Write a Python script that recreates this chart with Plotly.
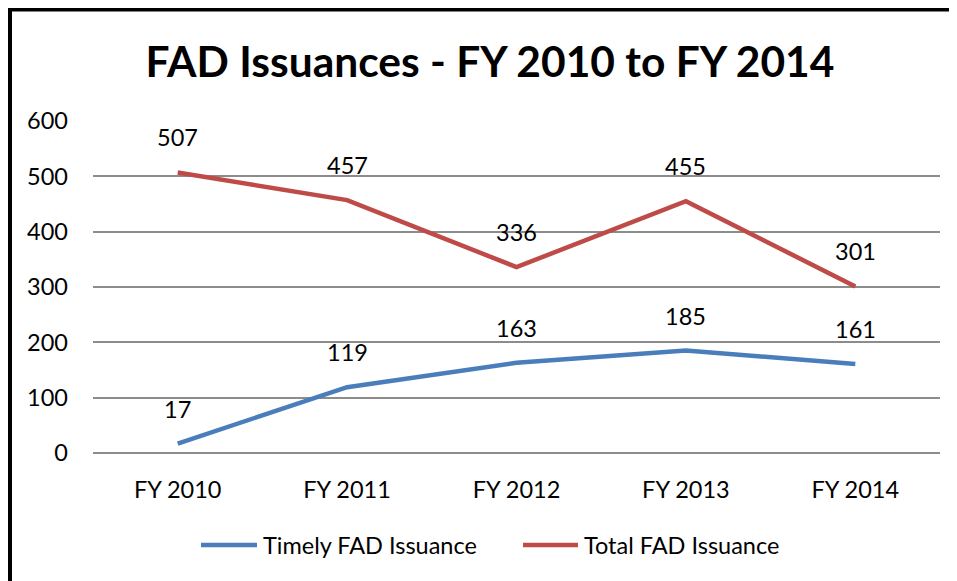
import plotly.graph_objects as go

categories = ["FY 2010", "FY 2011", "FY 2012", "FY 2013", "FY 2014"]
timely = [17, 119, 163, 185, 161]
total = [507, 457, 336, 455, 301]
series_names = ["Timely FAD Issuance", "Total FAD Issuance"]
title_text = "FAD Issuances - FY 2010 to FY 2014"
y_ticks = [0, 100, 200, 300, 400, 500, 600]

BLUE = "#4A7EBB"
RED = "#BE4B48"
FONT = "Lato"
FS = 23.5

# page body has an 8px margin; layout numbers compensate for it
W, H = 949, 573
L, T = 85, 113
PW, PH = 847, 332
R, B = W - L - PW, H - T - PH


def px_x(ax):  # absolute page x -> paper x
    return (ax - 8 - L) / PW


def px_y(ay):  # absolute page y -> paper y
    return (H - B - (ay - 8)) / PH


fig = go.Figure()
colors = [BLUE, RED]
for name, series, col in zip(series_names, (timely, total), colors):
    fig.add_trace(go.Scatter(x=categories, y=series, mode="lines", name=name,
                             line=dict(color=col, width=4.5), showlegend=False))

annotations = []
for series in (timely, total):
    for c, v in zip(categories, series):
        annotations.append(dict(x=c, y=v, text=str(v), showarrow=False, yshift=35,
                                font=dict(family=FONT, size=FS, color="#000000")))

# manual legend
shapes = []
legend_items = [(201, 257, 261), (523, 578, 582)]
ly = px_y(545)
for (x0, x1, tx), name, col in zip(legend_items, series_names, colors):
    shapes.append(dict(type="line", xref="paper", yref="paper", x0=px_x(x0), x1=px_x(x1),
                       y0=ly, y1=ly, line=dict(color=col, width=4.5)))
    annotations.append(dict(xref="paper", yref="paper", x=px_x(tx), y=ly, text=name,
                            showarrow=False, xanchor="left", yanchor="middle",
                            font=dict(family=FONT, size=FS, color="#000000")))

# chart-area border (left and top edges visible; right/bottom lie outside the crop)
shapes.append(dict(type="line", xref="paper", yref="paper",
                   x0=px_x(10), x1=px_x(10), y0=px_y(600), y1=px_y(7.5),
                   line=dict(color="black", width=4), layer="above"))
shapes.append(dict(type="line", xref="paper", yref="paper",
                   x0=px_x(8), x1=px_x(960), y0=px_y(9.5), y1=px_y(9.5),
                   line=dict(color="black", width=4), layer="above"))

fig.update_layout(
    width=W, height=H,
    margin=dict(l=L, r=R, t=T, b=B),
    paper_bgcolor="white", plot_bgcolor="white",
    title=dict(text="<b>" + title_text + "</b>", x=(490 - 8) / W, xanchor="center",
               y=1 - (62 - 8) / H, yanchor="middle", yref="container",
               font=dict(family=FONT, size=42.5, color="#000000")),
    font=dict(family=FONT, size=FS, color="#000000"),
    showlegend=False,
    annotations=annotations,
    shapes=shapes,
)
fig.update_xaxes(type="category", range=[-0.5, 4.5], showgrid=False, showline=False,
                 zeroline=False, ticks="", ticklabelstandoff=20,
                 tickfont=dict(family=FONT, size=FS))
fig.update_yaxes(range=[0, 600], tickvals=y_ticks, showgrid=True, gridcolor="#8C8C8C",
                 gridwidth=1.5, zeroline=True, zerolinecolor="#8C8C8C", zerolinewidth=1.5,
                 showline=False, ticks="", ticklabelstandoff=24,
                 tickfont=dict(family=FONT, size=FS))

fig.write_html("out.html")
